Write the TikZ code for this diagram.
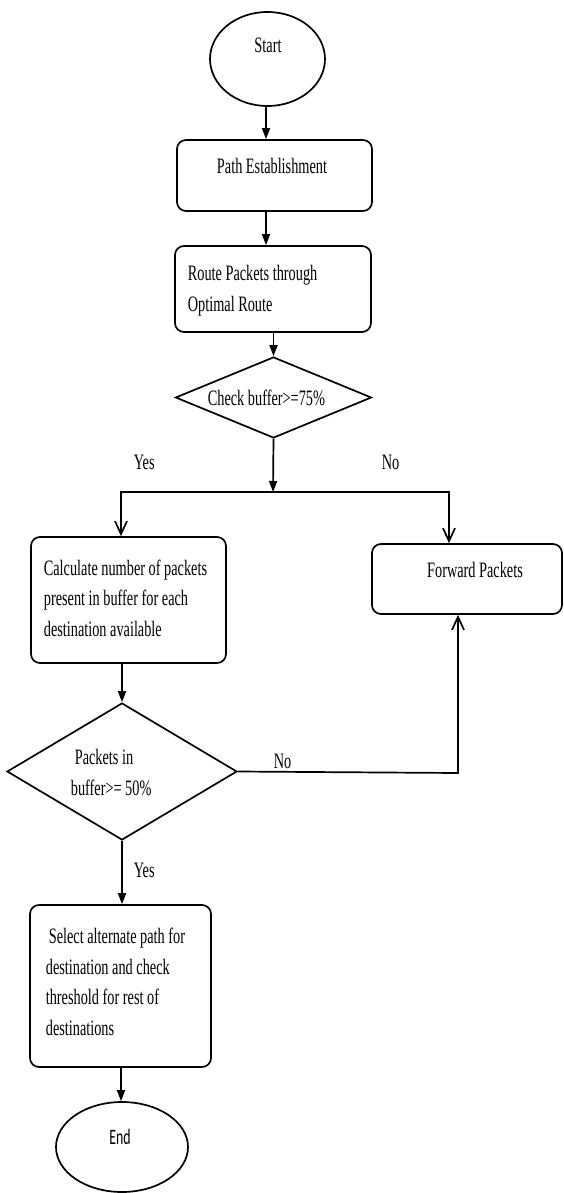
\documentclass[tikz,border=0pt]{standalone}
\usepackage{fontspec}
\setmainfont{Liberation Serif}[FakeStretch=0.65]
\newfontfamily\endfont{Carlito}[FakeStretch=0.63]
\usetikzlibrary{shapes.geometric}
\usetikzlibrary{arrows.meta}

\begin{document}
\begin{tikzpicture}[x=1pt,y=-1pt,line width=1.7pt,
	every node/.style={font=\fontsize{22}{30.5}\selectfont},
	term/.style={draw,ellipse,inner sep=0pt},
	procbox/.style={draw,rectangle,rounded corners=9pt,inner sep=0pt},
	decision/.style={draw,diamond,inner sep=0pt},
	txt/.style={anchor=base west,align=left,inner sep=0pt},
	flow/.style={-{Triangle[length=11pt,width=8pt]}},
	branch/.style={-{Straight Barb[length=13pt,width=12pt]}}]
\useasboundingbox (0,0) rectangle (563,1193);
% shapes
\node[term,minimum width=115pt,minimum height=94pt] (start) at (267.5,59) {};
\node[procbox,minimum width=195pt,minimum height=71pt] (path) at (274.5,175.5) {};
\node[procbox,minimum width=196pt,minimum height=86pt] (route) at (273,289) {};
\node[decision,minimum width=196pt,minimum height=81pt] (check) at (273.5,397.5) {};
\node[procbox,minimum width=195pt,minimum height=126pt] (calc) at (128.5,600) {};
\node[procbox,minimum width=190pt,minimum height=70pt] (fwd) at (467,579) {};
\node[decision,minimum width=230pt,minimum height=137pt] (half) at (122,771.5) {};
\node[procbox,minimum width=181pt,minimum height=162pt] (sel) at (120.5,986) {};
\node[term,minimum width=132pt,minimum height=90pt] (end) at (122,1147) {};
% texts (multi-line ones sit on the baseline of their last line)
\node[txt,anchor=base] (tstart) at (268,53) {Start};
\node[txt,anchor=base] (tpath) at (272,174) {Path Establishment};
\node[txt] (troute) at (187,311) {Route Packets through\\Optimal Route};
\node[txt] (tcheck) at (207,405) {Check buffer>=75\%};
\node[txt] (tcalc) at (43,636) {Calculate number of packets\\present in buffer for each\\destination available};
\node[txt,anchor=base] (tfwd) at (475,577) {Forward Packets};
\node[txt] (thalf) at (70,795) {\hspace*{4pt}Packets in\\buffer>= 50\%};
\node[txt] (tsel) at (45,1035) {\hspace*{3pt}Select alternate path for\\destination and check\\threshold for rest of\\destinations};
\node[txt,anchor=base] (tend) at (120,1144) {\endfont End};
% labels
\node[txt] (yes1) at (133,469) {Yes};
\node[txt] (no1) at (381,469) {No};
\node[txt] (no2) at (273,768) {No};
\node[txt] (yes2) at (133,877) {Yes};
% joints
\coordinate (split) at (273,492);
\coordinate (yescorner) at (121,492);
\coordinate (nocorner) at (449,492);
\coordinate (backcorner) at (458,773);
% connectors
\draw[flow] (start.south -| 266,0) -- (path.north -| 266,0);
\draw[flow] (path.south -| 266,0) -- (route.north -| 266,0);
\draw[flow] (route.south -| check.north) -- (check.north);
\draw[flow] (check.south) -- (split);
\draw[branch] (split) -- (yescorner) -- (yescorner |- calc.north);
\draw[branch] (split) -- (nocorner) -- (nocorner |- fwd.north);
\draw[flow] (calc.south -| half.north) -- (half.north);
\draw[branch] (half.east) -- (backcorner) -- (backcorner |- fwd.south);
\draw[flow] (half.south) -- (half.south |- sel.north);
\draw[flow] (sel.south -| 121,0) -- (end.north -| 121,0);
\end{tikzpicture}
\end{document}
